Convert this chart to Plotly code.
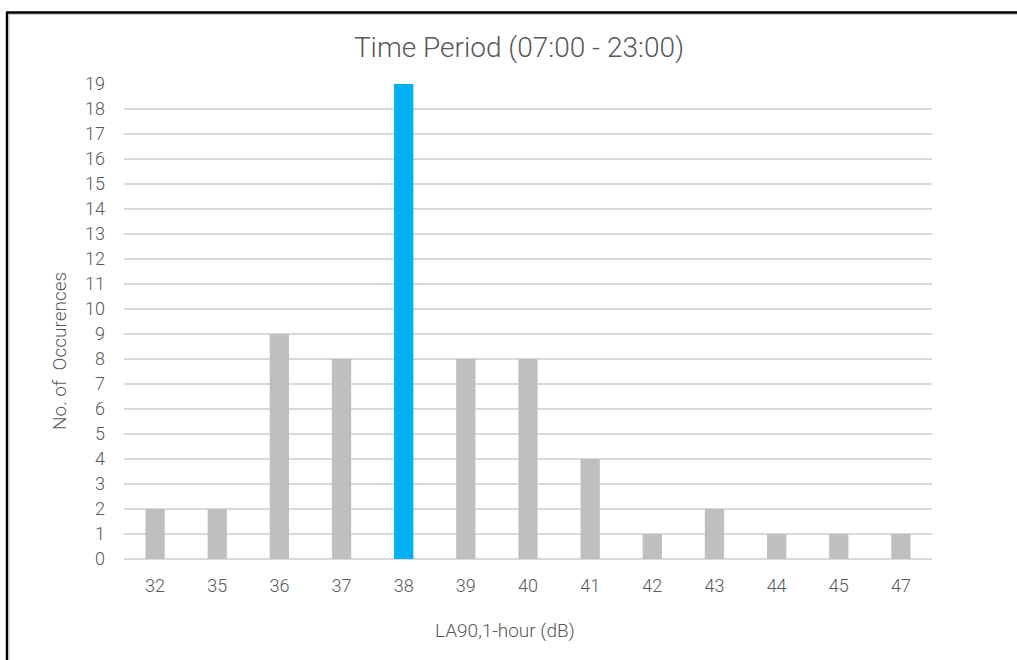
import plotly.graph_objects as go

# Hourly LA90 levels (dB) and how often each occurred during the day period
levels = ["32", "35", "36", "37", "38", "39", "40", "41", "42", "43", "44", "45", "47"]
occurrences = [2, 2, 9, 8, 19, 8, 8, 4, 1, 2, 1, 1, 1]
modal_level = "38"

y_ticks = list(range(0, 20))

GREY_BAR = "#BFBFBF"
BLUE_BAR = "#00B0F0"
TEXT = "#595959"
GRID = "#D9D9D9"
FONT = "Roboto"
WEIGHT = 300

W, H = 1017, 660
ML, MR, MT, MB = 124, 85, 84, 101
PW, PH = W - ML - MR, H - MT - MB


def px_x(x):
    return (x - ML) / PW


def px_y(y):
    return (H - MB - y) / PH


colors = [BLUE_BAR if lv == modal_level else GREY_BAR for lv in levels]

fig = go.Figure(
    go.Bar(
        x=levels,
        y=occurrences,
        marker=dict(color=colors, line=dict(width=0)),
        hoverinfo="x+y",
    )
)

fig.update_layout(
    width=W,
    height=H,
    margin=dict(l=ML, r=MR, t=MT, b=MB, pad=0),
    paper_bgcolor="white",
    plot_bgcolor="white",
    bargap=0.69,
    showlegend=False,
    font=dict(family=FONT, color=TEXT, size=18, weight=WEIGHT),
    title=dict(
        text="Time Period (07:00 - 23:00)",
        x=px_x(519),
        xref="paper",
        xanchor="center",
        y=1 - 47 / H,
        yanchor="middle",
        font=dict(family=FONT, size=28, color=TEXT, weight=WEIGHT),
    ),
)

fig.update_xaxes(
    type="category",
    showgrid=False,
    showline=False,
    zeroline=False,
    ticks="",
    ticklabelstandoff=14,
    tickfont=dict(family=FONT, size=18, color=TEXT, weight=WEIGHT),
)

fig.update_yaxes(
    range=[0, 19],
    tickvals=y_ticks,
    showgrid=True,
    gridcolor=GRID,
    gridwidth=1.5,
    zeroline=True,
    zerolinecolor=GRID,
    zerolinewidth=1.5,
    showline=False,
    ticks="",
    ticklabelstandoff=18,
    tickfont=dict(family=FONT, size=18, color=TEXT, weight=WEIGHT),
)

# Axis titles
fig.add_annotation(
    text="LA90,1-hour (dB)",
    xref="paper", yref="paper",
    x=px_x(505), y=px_y(630),
    xanchor="center", yanchor="middle",
    showarrow=False,
    font=dict(family=FONT, size=19, color=TEXT, weight=WEIGHT),
)
fig.add_annotation(
    text="No. of  Occurences",
    xref="paper", yref="paper",
    x=px_x(60), y=px_y(351),
    xanchor="center", yanchor="middle",
    textangle=-90,
    showarrow=False,
    font=dict(family=FONT, size=19, color=TEXT, weight=WEIGHT),
)

# Frame around the chart (left and top edges)
fig.add_shape(type="line", xref="paper", yref="paper",
              x0=px_x(7), x1=px_x(7), y0=px_y(13), y1=px_y(700),
              line=dict(color="black", width=2.5))
fig.add_shape(type="line", xref="paper", yref="paper",
              x0=px_x(9), x1=px_x(9), y0=px_y(14.5), y1=px_y(700),
              line=dict(color="#C8C8C8", width=1))
fig.add_shape(type="line", xref="paper", yref="paper",
              x0=px_x(6), x1=px_x(1100), y0=px_y(12.5), y1=px_y(12.5),
              line=dict(color="black", width=2.5))
fig.add_shape(type="line", xref="paper", yref="paper",
              x0=px_x(8.5), x1=px_x(1100), y0=px_y(14.5), y1=px_y(14.5),
              line=dict(color="#C8C8C8", width=1))

fig.write_html("out.html")
